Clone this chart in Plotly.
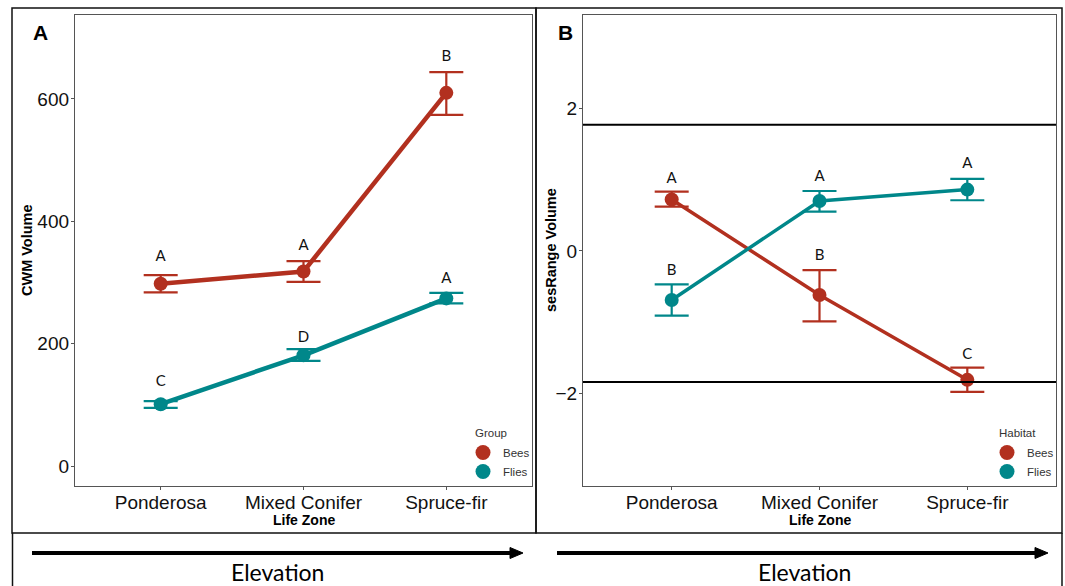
import plotly.graph_objects as go

# ---------------- data ----------------
zones = ["Ponderosa", "Mixed Conifer", "Spruce-fir"]

# Panel A: CWM Volume
cwm_bees = [298, 318, 610]
cwm_bees_hi = [312, 335, 644]
cwm_bees_lo = [284, 301, 574]
cwm_flies = [101, 181, 274]
cwm_flies_hi = [106, 191, 283]
cwm_flies_lo = [95, 172, 266]
cwm_bees_letters = ["A", "A", "B"]
cwm_bees_letter_y = [341, 360, 669]
cwm_flies_letters = ["C", "D", "A"]
cwm_flies_letter_y = [137, 209, 305]

# Panel B: sesRange Volume
ses_bees = [0.72, -0.62, -1.81]
ses_bees_hi = [0.83, -0.27, -1.64]
ses_bees_lo = [0.62, -0.99, -1.98]
ses_flies = [-0.69, 0.70, 0.86]
ses_flies_hi = [-0.47, 0.84, 1.01]
ses_flies_lo = [-0.91, 0.55, 0.71]
ses_bees_letters = ["A", "B", "C"]
ses_bees_letter_y = [1.00, -0.08, -1.46]
ses_flies_letters = ["B", "A", "A"]
ses_flies_letter_y = [-0.28, 1.04, 1.22]
ses_hlines = [1.77, -1.84]

groups = ["Bees", "Flies"]
cwm_ticks = [0, 200, 400, 600]
ses_ticks = [-2, 0, 2]

# ---------------- style ----------------
W, H = 1065, 586
RED = "#B2301F"
TEAL = "#00878A"
COL = {"Bees": RED, "Flies": TEAL}
ARIAL = "Liberation Sans, Arial"


def X(px):
    return px / W


def Y(py):
    return 1 - py / H


fig = go.Figure()


def add_series(xa, ya, y, hi, lo, color, lw, letters, ly):
    fig.add_trace(go.Scatter(
        x=zones, y=y, xaxis=xa, yaxis=ya, mode="lines+markers",
        line=dict(color=color, width=lw),
        marker=dict(color=color, size=14),
        error_y=dict(type="data", symmetric=False,
                     array=[h - v for h, v in zip(hi, y)],
                     arrayminus=[v - l for v, l in zip(y, lo)],
                     color=color, thickness=2.2, width=17),
        showlegend=False, hoverinfo="skip"))
    fig.add_trace(go.Scatter(
        x=zones, y=ly, xaxis=xa, yaxis=ya, mode="text", text=letters,
        textfont=dict(family="Lato", size=15, color="#111111"),
        showlegend=False, hoverinfo="skip"))


add_series("x", "y", cwm_bees, cwm_bees_hi, cwm_bees_lo, RED, 4.5,
           cwm_bees_letters, cwm_bees_letter_y)
add_series("x", "y", cwm_flies, cwm_flies_hi, cwm_flies_lo, TEAL, 4.5,
           cwm_flies_letters, cwm_flies_letter_y)
add_series("x2", "y2", ses_bees, ses_bees_hi, ses_bees_lo, RED, 3.5,
           ses_bees_letters, ses_bees_letter_y)
add_series("x2", "y2", ses_flies, ses_flies_hi, ses_flies_lo, TEAL, 3.5,
           ses_flies_letters, ses_flies_letter_y)

# legend entries (circles only, as in ggplot)
for leg, xa, ya in [("legend", "x", "y"), ("legend2", "x2", "y2")]:
    for g in groups:
        fig.add_trace(go.Scatter(
            x=[None], y=[None], xaxis=xa, yaxis=ya, mode="markers",
            marker=dict(color=COL[g], size=15), name=g, legend=leg,
            showlegend=True, hoverinfo="skip"))

axis_common = dict(
    showline=True, mirror=True, linecolor="#555555", linewidth=1.3,
    ticks="outside", ticklen=3, tickcolor="#555555", tickwidth=1,
    showgrid=False, zeroline=False,
    tickfont=dict(family=ARIAL, size=19, color="#111111"),
)

legend_common = dict(xanchor="left", yanchor="top", bgcolor="rgba(0,0,0,0)",
                     itemwidth=30, tracegroupgap=0,
                     font=dict(family=ARIAL, size=11.5, color="#333333"))

fig.update_layout(
    width=W, height=H,
    margin=dict(l=0, r=0, t=0, b=0),
    paper_bgcolor="white", plot_bgcolor="white",
    xaxis=dict(domain=[X(75), X(532)], anchor="y", type="category",
               range=[-0.6, 2.6], ticklabelstandoff=-4, **axis_common),
    yaxis=dict(domain=[Y(486), Y(15)], anchor="x", range=[-32.7, 737.3],
               tickvals=cwm_ticks, ticklabelstandoff=-2, **axis_common),
    xaxis2=dict(domain=[X(583), X(1056)], anchor="y2", type="category",
                range=[-0.6, 2.6], ticklabelstandoff=-4, **axis_common),
    yaxis2=dict(domain=[Y(486), Y(15)], anchor="x2", range=[-3.30, 3.31],
                tickvals=ses_ticks, ticklabelstandoff=-2, **axis_common),
    legend=dict(x=X(463), y=Y(438), **legend_common),
    legend2=dict(x=X(987), y=Y(438), **legend_common),
)

# reference lines in panel B
for v in ses_hlines:
    fig.add_shape(type="line", xref="x2 domain", yref="y2", x0=0, x1=1, y0=v, y1=v,
                  line=dict(color="black", width=2))

# outer frames
frame = dict(color="#111111", width=1.5)
fig.add_shape(type="rect", xref="paper", yref="paper", x0=X(12), x1=X(536), y0=Y(533), y1=Y(8), line=frame)
fig.add_shape(type="rect", xref="paper", yref="paper", x0=X(536), x1=X(1062), y0=Y(533), y1=Y(8), line=frame)
fig.add_shape(type="line", xref="paper", yref="paper", x0=X(12.5), x1=X(12.5), y0=Y(533), y1=Y(586), line=frame)
fig.add_shape(type="line", xref="paper", yref="paper", x0=X(1062), x1=X(1062), y0=Y(533), y1=Y(586), line=frame)

# elevation arrows
for x0, x1 in [(32, 523), (557, 1048)]:
    fig.add_shape(type="line", xref="paper", yref="paper", x0=X(x0), x1=X(x1 - 10), y0=Y(553), y1=Y(553),
                  line=dict(color="black", width=4))
    fig.add_shape(type="path", xref="paper", yref="paper",
                  path=f"M {X(x1-13)} {Y(547.5)} L {X(x1)} {Y(553)} L {X(x1-13)} {Y(558.5)} Z",
                  fillcolor="black", line=dict(color="black", width=1))

# text annotations
ann = []
for cx, label in [(277.5, "Elevation"), (804, "Elevation")]:
    ann.append(dict(x=X(cx), y=Y(572), xref="paper", yref="paper", text=label, showarrow=False,
                    font=dict(family="Lato", size=23, color="black"), xanchor="center", yanchor="middle"))
for cx, label in [(40, "A"), (565, "B")]:
    ann.append(dict(x=X(cx), y=Y(33), xref="paper", yref="paper", text=f"<b>{label}</b>", showarrow=False,
                    font=dict(family=ARIAL, size=21, color="black"),
                    xanchor="center", yanchor="middle"))
for cx, label in [(303.5, "Life Zone"), (819.5, "Life Zone")]:
    ann.append(dict(x=X(cx), y=Y(520), xref="paper", yref="paper", text=f"<b>{label}</b>", showarrow=False,
                    font=dict(family=ARIAL, size=14, color="black"),
                    xanchor="center", yanchor="middle"))
for cx, label in [(27, "CWM Volume"), (551, "sesRange Volume")]:
    ann.append(dict(x=X(cx), y=Y(250), xref="paper", yref="paper", text=f"<b>{label}</b>", showarrow=False,
                    textangle=-90,
                    font=dict(family=ARIAL, size=14.5, color="black"),
                    xanchor="center", yanchor="middle"))
# legend titles
for lx, label in [(473, "Group"), (997, "Habitat")]:
    ann.append(dict(x=X(lx), y=Y(433), xref="paper", yref="paper", text=label, showarrow=False,
                    font=dict(family=ARIAL, size=11.5, color="#333333"),
                    xanchor="left", yanchor="middle"))
fig.update_layout(annotations=ann)

fig.write_html(
    "out.html",
    config={"displayModeBar": False},
    post_script="document.body.style.margin='0';document.body.style.overflow='hidden';",
)
